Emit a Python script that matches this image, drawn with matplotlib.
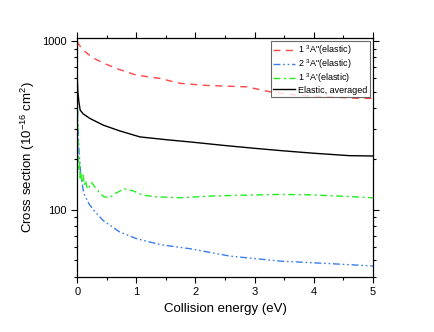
import numpy as np
import matplotlib
matplotlib.use("Agg")
from matplotlib import pyplot as plt
from matplotlib.ticker import LogLocator, MultipleLocator, NullFormatter

plt.rcParams['font.family'] = ['Liberation Sans', 'DejaVu Sans']
plt.rcParams['mathtext.fontset'] = 'custom'
plt.rcParams['mathtext.rm'] = 'Liberation Sans'
plt.rcParams['mathtext.it'] = 'Liberation Sans:italic'

# 1 3A" (elastic), red dashed
e_red = [0.0, 0.02, 0.1, 0.25, 0.44, 0.7, 1.0, 1.4, 1.74, 2.2, 2.87, 3.26, 3.7, 4.27, 4.7, 5.0]
s_red = [1000, 960, 885, 800, 740, 680, 628, 600, 561, 545, 535, 500, 478, 467, 458, 457]

# 2 3A" (elastic), blue dash-dot-dot
e_blue = [0.0, 0.01, 0.03, 0.06, 0.11, 0.2, 0.28, 0.44, 0.72, 1.0, 1.4, 1.91, 2.58, 3.43, 4.28, 5.0]
s_blue = [500, 320, 220, 160, 125, 108, 99, 86, 73.6, 67.3, 62, 58.6, 53, 49.5, 47.8, 46.3]

# 1 3A' (elastic), green dash-dot
e_green = [0.0, 0.01, 0.02, 0.03, 0.04, 0.05, 0.06, 0.08, 0.1, 0.12, 0.14, 0.17, 0.2, 0.24, 0.28,
           0.33, 0.37, 0.45, 0.55, 0.65, 0.79, 0.95, 1.1, 1.34, 1.74, 2.3, 2.9, 3.43, 3.9, 4.28, 4.7, 5.0]
s_green = [500, 300, 200, 170, 190, 150, 165, 145, 160, 140, 149, 132, 136, 145, 139,
           132, 127, 119, 118, 125, 133, 129, 122, 119, 117.6, 120.5, 122, 123, 122.5, 121, 119, 117.6]

# elastic, averaged, black solid
e_avg = [0.0, 0.01, 0.03, 0.05, 0.1, 0.21, 0.44, 0.72, 1.06, 1.5, 1.91, 2.5, 3.0, 3.5, 4.0, 4.6, 5.0]
s_avg = [610, 500, 430, 389, 370, 348, 317, 293, 270, 260, 252, 240, 231, 223, 216, 209, 208]

fig = plt.figure(figsize=(4.34, 3.32), dpi=100)
ax = fig.add_axes([0.178, 0.1666, 0.681, 0.7184])

ax.plot(e_red, s_red, color='#ff4545', lw=1.0, ls=(0, (5, 4)), label='1 $^3$A"(elastic)')
ax.plot(e_blue, s_blue, color='#3a7fea', lw=1.0, ls=(0, (5, 2, 1.2, 2, 1.2, 2)), label='2 $^3$A"(elastic)')
ax.plot(e_green, s_green, color='#22ee22', lw=1.0, ls=(0, (5, 2.5, 1.5, 2.5)), label="1 $^3$A'(elastic)")
ax.plot(e_avg, s_avg, color='black', lw=1.0, label='Elastic, averaged')

ax.set_yscale('log')
ax.set_xlim(0, 5)
ax.set_ylim(40, 1040)
ax.xaxis.set_major_locator(MultipleLocator(1))
ax.xaxis.set_minor_locator(MultipleLocator(0.5))
ax.yaxis.set_major_locator(LogLocator(base=10, numticks=10))
ax.yaxis.set_minor_locator(LogLocator(base=10, subs=np.arange(2, 10), numticks=10))
ax.yaxis.set_minor_formatter(NullFormatter())
ax.set_yticks([100, 1000])
ax.set_yticklabels(['100', '1000'])

ax.tick_params(which='both', direction='out', top=True, right=True, labelsize=8, width=0.8)
ax.tick_params(which='major', length=4)
ax.tick_params(which='minor', length=2.5)
for sp in ax.spines.values():
    sp.set_linewidth(0.9)

ax.set_xlabel('Collision energy (eV)', fontsize=9.5)
ax.set_ylabel('Cross section (10$^{-16}$ cm$^2$)', fontsize=9.5)

leg = ax.legend(loc='upper right', fontsize=6.5, frameon=True, fancybox=False,
                edgecolor='#444444', handlelength=2.4, borderpad=0.25,
                labelspacing=0.05, handletextpad=0.4, borderaxespad=0.3)
leg.get_frame().set_linewidth(0.8)

fig.savefig('out.png', dpi=100)
